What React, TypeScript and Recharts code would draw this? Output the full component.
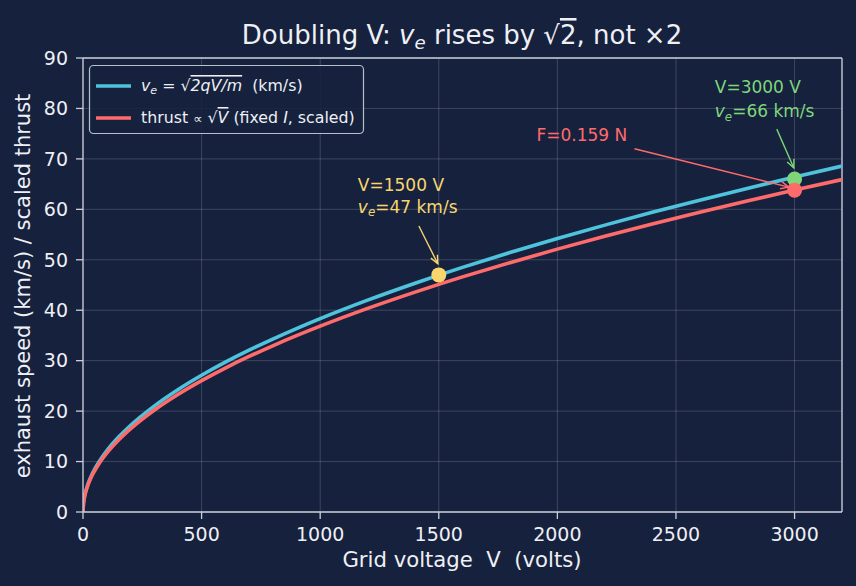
import React from 'react';
import { LineChart, Line, XAxis, YAxis, CartesianGrid, ReferenceLine, ReferenceDot } from 'recharts';

const BG = '#16213e';
const AXIS = '#c9ced8';
const TEXT = '#eef0f4';
const BLUE = '#4fc3dc';
const RED = '#ff6b6b';
const YELLOW = '#f8d66d';
const GREEN = '#7fd67a';
const FONT = '"DejaVu Sans", sans-serif';

// grid voltage (V) and the two curves
const voltage = [0, 2, 5, 10, 20, 40, 70, 100, 150, 200, 300, 400, 500, 600, 700, 800, 900, 1000, 1200, 1400, 1500, 1600, 1800, 2000, 2200, 2400, 2600, 2800, 3000, 3200];
const exhaustSpeed = [0, 1.71, 2.71, 3.83, 5.42, 7.67, 10.14, 12.12, 14.85, 17.15, 21.0, 24.25, 27.11, 29.7, 32.08, 34.29, 36.37, 38.34, 42.0, 45.36, 46.96, 48.5, 51.44, 54.22, 56.87, 59.4, 61.82, 64.15, 66.41, 68.58];
const thrustScaled = [0, 1.64, 2.6, 3.68, 5.21, 7.37, 9.75, 11.65, 14.27, 16.48, 20.18, 23.3, 26.05, 28.54, 30.83, 32.95, 34.95, 36.84, 40.36, 43.59, 45.13, 46.61, 49.43, 52.11, 54.65, 57.08, 59.41, 61.65, 63.82, 65.9];

const xTicks = [0, 500, 1000, 1500, 2000, 2500, 3000];
const yTicks = [0, 10, 20, 30, 40, 50, 60, 70, 80, 90];

// highlighted operating points
const pointV = [1500, 3000, 3000];
const pointY = [47, 66, 63.8];
const pointColor = [YELLOW, GREEN, RED];

const data = voltage.map((v, i) => ({ v, ve: exhaustSpeed[i], thrust: thrustScaled[i] }));

// italic v with subscript e; `after` continues on the normal baseline
const Ve = ({ size, after }: { size: number; after: React.ReactNode }) => (
  <>
    <tspan fontStyle="italic">v</tspan>
    <tspan fontSize={size * 0.7} fontStyle="italic" dy={size * 0.2}>e</tspan>
    <tspan dy={-size * 0.2}>{after}</tspan>
  </>
);

type Callout = {
  from: [number, number];
  to: [number, number];
  color: string;
  dx: number;
  rows: { dy: number; content: React.ReactNode }[];
};

const NOTE = 17;

const callouts: Callout[] = [
  {
    from: [1416, 56.7], to: [1496, 49.2], color: YELLOW, dx: -61,
    rows: [
      { dy: -35, content: 'V=1500 V' },
      { dy: -13, content: <Ve size={NOTE} after="=47 km/s" /> },
    ],
  },
  {
    from: [2325, 72.0], to: [2976, 64.4], color: RED, dx: -98,
    rows: [{ dy: -8, content: 'F=0.159 N' }],
  },
  {
    from: [2925, 75.9], to: [2997, 68.2], color: GREEN, dx: -62,
    rows: [
      { dy: -36, content: 'V=3000 V' },
      { dy: -12, content: <Ve size={NOTE} after="=66 km/s" /> },
    ],
  },
];

const arrowShape = (c: Callout) => (props: any) => {
  const { x1, y1, x2, y2 } = props;
  const ang = Math.atan2(y2 - y1, x2 - x1);
  const h = 9;
  const s = 0.42;
  const a = [x2 - h * Math.cos(ang - s), y2 - h * Math.sin(ang - s)];
  const b = [x2 - h * Math.cos(ang + s), y2 - h * Math.sin(ang + s)];
  return (
    <g>
      <line x1={x1} y1={y1} x2={x2} y2={y2} stroke={c.color} strokeWidth={1.4} />
      <polyline points={`${a[0]},${a[1]} ${x2},${y2} ${b[0]},${b[1]}`} fill="none" stroke={c.color} strokeWidth={1.4} />
      {c.rows.map((r, i) => (
        <text key={i} x={x1 + c.dx} y={y1 + r.dy} fill={c.color} fontSize={NOTE} fontFamily={FONT}>
          {r.content}
        </text>
      ))}
    </g>
  );
};

export default function App() {
  return (
    <div style={{ position: 'absolute', left: 0, top: 0, width: 856, height: 586, background: BG, fontFamily: FONT }}>
      <LineChart width={856} height={586} data={data} margin={{ top: 58, right: 14, left: 0, bottom: 0 }}>
        <CartesianGrid stroke="rgba(255,255,255,0.17)" strokeWidth={1} />
        <XAxis
          dataKey="v"
          type="number"
          domain={[0, 3200]}
          ticks={xTicks}
          height={74}
          stroke={AXIS}
          strokeWidth={1.3}
          tickSize={7}
          tickMargin={9}
          tick={{ fill: TEXT, fontSize: 19, fontFamily: FONT }}
          allowDataOverflow
        />
        <YAxis
          type="number"
          domain={[0, 90]}
          ticks={yTicks}
          width={83}
          stroke={AXIS}
          strokeWidth={1.3}
          tickSize={7}
          tickMargin={8}
          tick={{ fill: TEXT, fontSize: 19, fontFamily: FONT }}
          allowDataOverflow
        />
        <ReferenceLine y={90} stroke={AXIS} strokeWidth={1.3} />
        <ReferenceLine x={3200} stroke={AXIS} strokeWidth={1.3} />
        <Line dataKey="ve" type="monotone" stroke={BLUE} strokeWidth={3.6} dot={false} isAnimationActive={false} />
        <Line dataKey="thrust" type="monotone" stroke={RED} strokeWidth={3.6} dot={false} isAnimationActive={false} />
        {callouts.map((c, i) => (
          <ReferenceLine
            key={`arrow-${i}`}
            segment={[{ x: c.from[0], y: c.from[1] }, { x: c.to[0], y: c.to[1] }]}
            shape={arrowShape(c)}
          />
        ))}
        {pointV.map((v, i) => (
          <ReferenceDot key={`pt-${i}`} x={v} y={pointY[i]} r={7.5} fill={pointColor[i]} stroke="none" />
        ))}
      </LineChart>
      <svg width={856} height={586} style={{ position: 'absolute', left: 0, top: 0, pointerEvents: 'none' }} fontFamily={FONT}>
        <text x={462} y={44} textAnchor="middle" fill={TEXT} fontSize={26}>
          {'Doubling V: '}
          <Ve size={26} after=" rises by √" />
          <tspan textDecoration="overline">2</tspan>, not ×2
        </text>
        <text x={462} y={567} textAnchor="middle" fill={TEXT} fontSize={21.2} style={{ whiteSpace: 'pre' }}>
          {'Grid voltage  V  (volts)'}
        </text>
        <text x={30} y={286} textAnchor="middle" fill={TEXT} fontSize={21} transform="rotate(-90 30 286)">
          exhaust speed (km/s) / scaled thrust
        </text>
        <rect x={89.5} y={65.5} width={274} height={68} rx={4} fill={BG} fillOpacity={0.85} stroke="#b8bfcc" strokeWidth={1.2} />
        <line x1={96} y1={86} x2={131} y2={86} stroke={BLUE} strokeWidth={3.6} />
        <line x1={96} y1={118} x2={131} y2={118} stroke={RED} strokeWidth={3.6} />
        <text x={141} y={91} fill={TEXT} fontSize={15.8} style={{ whiteSpace: 'pre' }}>
          <Ve size={15.8} after=" = √" />
          <tspan fontStyle="italic" textDecoration="overline">2qV/m</tspan>
          {'  (km/s)'}
        </text>
        <text x={141} y={123} fill={TEXT} fontSize={15.8} style={{ whiteSpace: 'pre' }}>
          {'thrust '}<tspan fontSize={13}>∝</tspan> √<tspan fontStyle="italic" textDecoration="overline">V</tspan> (fixed <tspan fontStyle="italic">I</tspan>, scaled)
        </text>
      </svg>
    </div>
  );
}
